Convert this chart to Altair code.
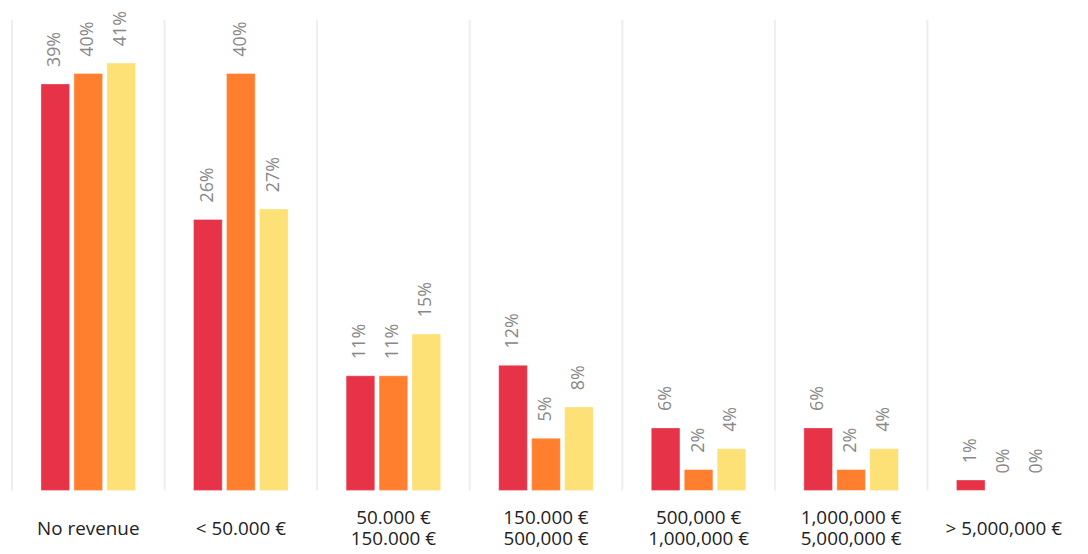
import altair as alt
import pandas as pd

categories = ["No revenue", "< 50.000 €", "50.000 €\n150.000 €", "150.000 €\n500,000 €",
              "500,000 €\n1,000,000 €", "1,000,000 €\n5,000,000 €", "> 5,000,000 €"]
series = ["A", "B", "C"]
values_a = [39, 26, 11, 12, 6, 6, 1]
values_b = [40, 40, 11, 5, 2, 2, 0]
values_c = [41, 27, 15, 8, 4, 4, 0]
colors = ["#E63348", "#FF7F2E", "#FDE076"]

rows = []
for i, c in enumerate(categories):
    for s, vals in zip(series, [values_a, values_b, values_c]):
        rows.append({"cat": c, "series": s, "value": vals[i], "label": f"{vals[i]}%"})
df = pd.DataFrame(rows)

xscale = alt.Scale(domain=categories, paddingInner=0, paddingOuter=0)
xaxis = alt.Axis(title=None, domain=False, ticks=False, grid=False, labelAngle=0,
                 labelFontSize=19, labelFont="Open Sans", labelColor="#222222",
                 labelBaseline={"condition": {"test": "indexof(datum.label, '\\n') >= 0",
                                              "value": "line-bottom"},
                                "value": "middle"},
                 labelPadding=38, labelLineHeight=21,
                 labelExpr="split(datum.label, '\\n')")
xoff = alt.XOffset("series:N", scale=alt.Scale(domain=series, paddingInner=0.13, paddingOuter=0.88))
yscale = alt.Scale(domain=[0, 45.14])

base = alt.Chart(df)

grid = alt.Chart(pd.DataFrame({"cat": categories})).mark_rule(color="#eeeeee", strokeWidth=2).encode(
    x=alt.X("cat:N", bandPosition=0, scale=xscale, sort=categories, axis=xaxis)
)

bars = base.mark_bar(stroke="#ffffff", strokeOpacity=0.35, strokeWidth=1).encode(
    x=alt.X("cat:N", scale=xscale, sort=categories, axis=xaxis),
    xOffset=xoff,
    y=alt.Y("value:Q", scale=yscale, axis=None),
    color=alt.Color("series:N", scale=alt.Scale(domain=series, range=colors), legend=None),
)

labels = base.mark_text(angle=270, align="left", baseline="middle", dx=17, fontSize=18,
                        font="Open Sans", color="#888888").encode(
    x=alt.X("cat:N", scale=xscale, sort=categories, axis=xaxis),
    xOffset=xoff,
    y=alt.Y("value:Q", scale=yscale, axis=None),
    text="label:N",
)

chart = alt.layer(grid, bars, labels).properties(
    width=1076, height=474,
    autosize=alt.AutoSizeParams(type="none"),
    padding={"left": 4, "top": 10, "right": 0, "bottom": 60},
).configure_view(stroke=None)

chart.save("out.html", embed_options={"renderer": "svg", "actions": False})
